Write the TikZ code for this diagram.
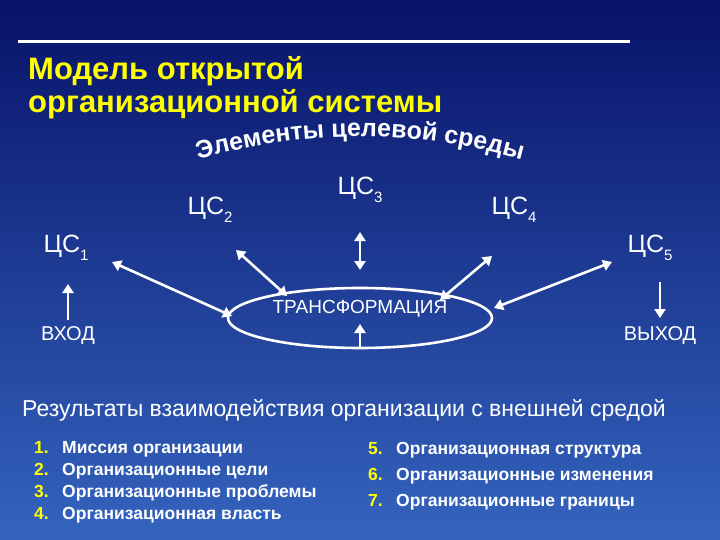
\documentclass[tikz,border=0pt]{standalone}
\usepackage{fontspec}
\setmainfont{Liberation Sans}
\usetikzlibrary{decorations.text,arrows.meta,shapes.geometric}
\definecolor{ttl}{RGB}{255,255,0}
\newcommand{\mysub}[1]{\raisebox{-0.3em}{\fontsize{15}{15}\selectfont #1}}
\begin{document}
\begin{tikzpicture}[x=1pt,y=-1pt,
  lbl/.style={text=white,font=\fontsize{25}{25}\selectfont,inner sep=0pt},
  dbl/.style={white,line width=2.6pt,{Triangle[length=9pt,width=11pt]}-{Triangle[length=9pt,width=11pt]}},
  sgl/.style={white,line width=2.6pt,-{Triangle[length=9pt,width=11pt]}},
  itm/.style={text=white,font=\fontsize{17.5}{17.5}\selectfont\bfseries,anchor=base west,inner sep=0pt},
  num/.style={text=ttl,font=\fontsize{17.5}{17.5}\selectfont\bfseries,anchor=base west,inner sep=0pt}]
\shade[top color={rgb,255:red,8;green,18;blue,105},bottom color={rgb,255:red,52;green,100;blue,190}] (0,0) rectangle (720,540);
\useasboundingbox (0,0) rectangle (720,540);
\draw[white,line width=3pt] (18,42) -- (630,42);
\node[text=ttl,font=\fontsize{31}{33}\selectfont\bfseries,align=left,anchor=north west,inner sep=0pt] (title) at (28,56) {Модель открытой\\организационной системы};
\path[decorate,decoration={text along path,text align=center,
  text={|\fontsize{25}{25}\selectfont\bfseries\color{white}|Элементы целевой среды}}]
  (170,168) .. controls (300,126) and (420,126) .. (550,168);
\node[lbl] (c1) at (66,248) {ЦС\mysub{1}};
\node[lbl] (c2) at (210,210) {ЦС\mysub{2}};
\node[lbl] (c3) at (360,190) {ЦС\mysub{3}};
\node[lbl] (c4) at (514,210) {ЦС\mysub{4}};
\node[lbl] (c5) at (650,248) {ЦС\mysub{5}};
\node[draw=white,line width=2.6pt,ellipse,minimum width=264pt,minimum height=60pt,inner sep=0pt] (tr) at (360,318) {};
\node[text=white,font=\fontsize{19}{19}\selectfont] (trt) at (360,309) {ТРАНСФОРМАЦИЯ};
\coordinate (a1) at (112,262); \coordinate (b1) at (232,316);
\coordinate (a2) at (236,250); \coordinate (b2) at (287,296);
\coordinate (a3) at (360,232); \coordinate (b3) at (360,270);
\coordinate (a4) at (492,256); \coordinate (b4) at (440,300);
\coordinate (a5) at (612,262); \coordinate (b5) at (494,308);
\draw[dbl] (a1) -- (b1);
\draw[dbl] (a2) -- (b2);
\draw[dbl] (a3) -- (b3);
\draw[dbl] (a4) -- (b4);
\draw[dbl] (a5) -- (b5);
\node[text=white,font=\fontsize{20}{20}\selectfont] (in) at (68,336) {ВХОД};
\node[text=white,font=\fontsize{20}{20}\selectfont] (out) at (660,336) {ВЫХОД};
\coordinate (ia) at (68,320); \coordinate (ib) at (68,284);
\coordinate (oa) at (660,282); \coordinate (ob) at (660,318);
\coordinate (ua) at (360,349); \coordinate (ub) at (360,324);
\draw[sgl] (ia) -- (ib);
\draw[sgl] (oa) -- (ob);
\draw[sgl] (ua) -- (ub);
\node[text=white,font=\fontsize{23}{23}\selectfont,anchor=base west,inner sep=0pt] (res) at (22,416) {Результаты взаимодействия организации с внешней средой};
\node[num] (n1) at (34,453) {1.}; \node[itm] (t1) at (62,453) {Миссия организации};
\node[num] (n2) at (34,475) {2.}; \node[itm] (t2) at (62,475) {Организационные цели};
\node[num] (n3) at (34,497) {3.}; \node[itm] (t3) at (62,497) {Организационные проблемы};
\node[num] (n4) at (34,519) {4.}; \node[itm] (t4) at (62,519) {Организационная власть};
\node[num] (n5) at (368,454) {5.}; \node[itm] (t5) at (396,454) {Организационная структура};
\node[num] (n6) at (368,480) {6.}; \node[itm] (t6) at (396,480) {Организационные изменения};
\node[num] (n7) at (368,506) {7.}; \node[itm] (t7) at (396,506) {Организационные границы};
\end{tikzpicture}
\end{document}
